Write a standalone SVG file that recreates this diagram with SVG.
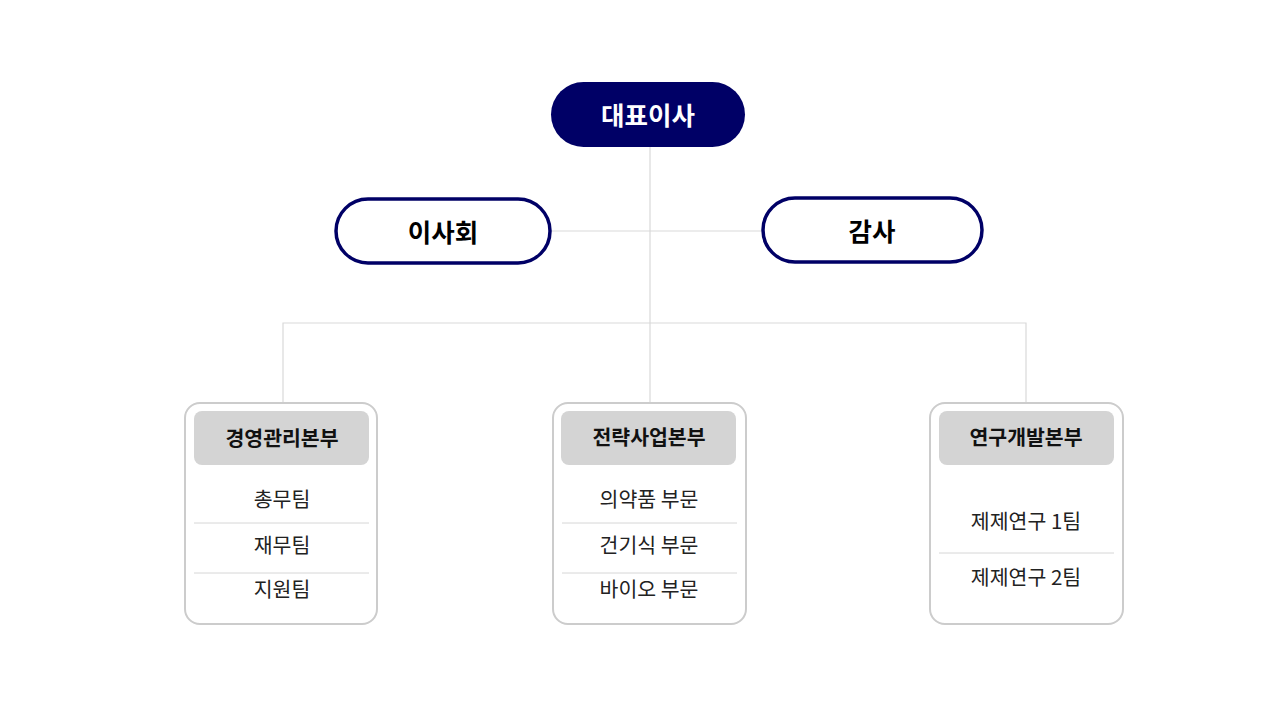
<svg xmlns="http://www.w3.org/2000/svg" width="1280" height="720" viewBox="0 0 1280 720">
<style>
text{font-family:"Noto Sans CJK KR","Noto Sans",sans-serif;text-anchor:middle;dominant-baseline:central}
.con{stroke:#d9d9d9;stroke-width:1.2;fill:none}
.pill{fill:#fff;stroke:#000066;stroke-width:3.5}
.top{font-size:25.5px;font-weight:700}
.box{fill:#fff;stroke:#cccccc;stroke-width:2}
.hdr{fill:#d4d4d4}
.ht{font-size:20.5px;font-weight:700;fill:#111}
.it{font-size:20.5px;fill:#222}
.sep{stroke:#d6d6d6;stroke-width:1}
</style>
<rect width="1280" height="720" fill="#fff"/>
<g id="connectors">
<path class="con" d="M650 147V402M550 231H763M283 402V323H1026V402"/>
</g>
<g id="ceo">
<rect x="551" y="82" width="194" height="65" rx="32.5" fill="#000066"/>
<text class="top" x="648" y="113" fill="#fff">대표이사</text>
</g>
<g id="board">
<rect class="pill" x="336" y="199" width="214" height="64" rx="32"/>
<text class="top" x="443" y="230" fill="#000">이사회</text>
</g>
<g id="audit">
<rect class="pill" x="763" y="198" width="219" height="64" rx="32"/>
<text class="top" x="872" y="229" fill="#000">감사</text>
</g>
<g id="mgmt">
<rect class="box" x="185" y="403" width="192" height="221" rx="15"/>
<rect class="hdr" x="194" y="411" width="175" height="54" rx="8"/>
<text class="ht" x="282" y="437">경영관리본부</text>
<text class="it" x="282" y="498">총무팀</text>
<line class="sep" x1="194" y1="523" x2="369" y2="523"/>
<text class="it" x="282" y="544">재무팀</text>
<line class="sep" x1="194" y1="573" x2="369" y2="573"/>
<text class="it" x="282" y="588">지원팀</text>
</g>
<g id="strategy">
<rect class="box" x="553" y="403" width="193" height="221" rx="15"/>
<rect class="hdr" x="561" y="411" width="175" height="54" rx="8"/>
<text class="ht" x="649" y="436">전략사업본부</text>
<text class="it" x="649" y="498">의약품 부문</text>
<line class="sep" x1="562" y1="523" x2="737" y2="523"/>
<text class="it" x="649" y="544">건기식 부문</text>
<line class="sep" x1="562" y1="573" x2="737" y2="573"/>
<text class="it" x="649" y="588">바이오 부문</text>
</g>
<g id="rnd">
<rect class="box" x="930" y="403" width="193" height="221" rx="15"/>
<rect class="hdr" x="939" y="411" width="175" height="54" rx="8"/>
<text class="ht" x="1026" y="436">연구개발본부</text>
<text class="it" x="1026" y="520">제제연구 1팀</text>
<line class="sep" x1="939" y1="553" x2="1114" y2="553"/>
<text class="it" x="1026" y="576">제제연구 2팀</text>
</g>
</svg>
